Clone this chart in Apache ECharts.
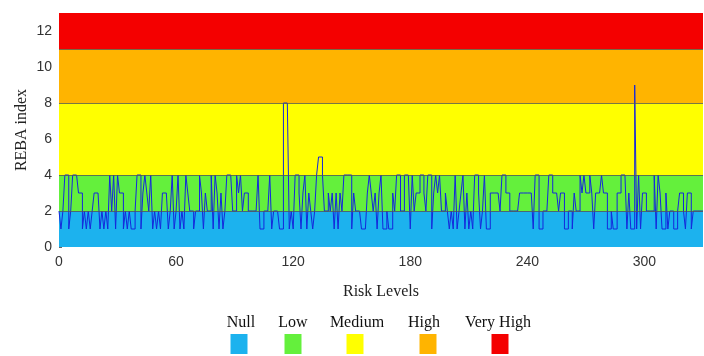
<!DOCTYPE html>
<html>
<head>
<meta charset="utf-8">
<script src="https://cdn.jsdelivr.net/npm/echarts@6/dist/echarts.min.js"></script>
<style>
  html, body { margin: 0; padding: 0; background: #fff; }
  #chart { width: 704px; height: 356px; }
</style>
</head>
<body>
<div id="chart"></div>
<script>
// REBA index per task (x = 0..330)
const rebaIndex = [
  2, 1, 2, 4, 4, 1, 2, 4, 4, 4,
  3, 3, 1, 2, 1, 2, 1, 2, 3, 3,
  3, 1, 2, 1, 2, 1, 4, 2, 4, 1,
  4, 3, 3, 1, 2, 1, 2, 1, 1, 2,
  4, 4, 1, 3, 4, 3, 2, 4, 1, 2,
  1, 2, 1, 3, 3, 3, 1, 2, 4, 1,
  2, 4, 1, 2, 1, 4, 3, 2, 2, 1,
  2, 2, 4, 3, 1, 3, 2, 2, 4, 1,
  4, 3, 1, 3, 1, 2, 4, 4, 4, 2,
  2, 4, 3, 4, 2, 3, 3, 2, 2, 2,
  2, 2, 4, 1, 1, 2, 2, 2, 4, 1,
  2, 2, 2, 1, 1, 8, 8, 8, 1, 2,
  1, 4, 4, 3, 1, 3, 4, 1, 3, 2,
  1, 2, 4, 5, 5, 4, 2, 2, 3, 2,
  3, 1, 3, 1, 3, 2, 4, 4, 4, 4,
  1, 3, 2, 2, 2, 1, 1, 1, 3, 4,
  3, 2, 3, 1, 3, 4, 1, 1, 2, 1,
  1, 3, 2, 4, 4, 2, 2, 4, 4, 4,
  1, 4, 2, 3, 3, 4, 4, 3, 2, 4,
  4, 1, 3, 4, 3, 4, 2, 2, 3, 2,
  1, 2, 1, 4, 1, 2, 3, 4, 1, 3,
  1, 2, 1, 4, 4, 3, 1, 2, 4, 1,
  1, 3, 3, 3, 3, 3, 2, 4, 4, 3,
  3, 2, 2, 2, 2, 2, 3, 3, 3, 3,
  3, 3, 3, 1, 4, 4, 1, 1, 2, 2,
  2, 4, 4, 3, 3, 3, 2, 3, 3, 1,
  1, 2, 2, 1, 3, 2, 2, 4, 3, 4,
  3, 3, 4, 3, 1, 3, 3, 3, 4, 3,
  3, 1, 1, 2, 1, 1, 3, 3, 4, 4,
  4, 1, 3, 1, 1, 9, 1, 4, 1, 3,
  3, 2, 2, 2, 2, 4, 1, 4, 3, 1,
  1, 3, 1, 2, 2, 1, 1, 2, 3, 3,
  2, 1, 3, 3, 1, 2, 2, 2, 2, 2,
  2
]

// risk bands
const bandNames = ['Null', 'Low', 'Medium', 'High', 'Very High']
const bandFrom = [0, 2, 4, 8, 11]
const bandTo = [2, 4, 8, 11, 13]
const bandColors = ['#1cb2ee', '#64f03c', '#ffff00', '#ffb400', '#f40000']

// axis
const xMax = 330
const yMax = 13

const serif = '"Liberation Serif", "DejaVu Serif", serif'
const sans = '"Liberation Sans", Arial, sans-serif'

const chart = echarts.init(document.getElementById('chart'))

// legend: label on top, colour swatch beneath
const legendText = [241, 293, 357, 424, 498]
const legendBox = [239, 293, 355, 428, 500]
const graphics = []
bandNames.forEach((name, i) => {
  graphics.push({
    type: 'text',
    x: legendText[i],
    y: 323,
    style: {
      text: name,
      align: 'center',
      verticalAlign: 'middle',
      font: '16px ' + serif,
      fill: '#111'
    }
  })
  graphics.push({
    type: 'rect',
    shape: { x: legendBox[i] - 8.5, y: 334, width: 17, height: 20 },
    style: { fill: bandColors[i] }
  })
})

const option = {
  animation: false,
  grid: { left: 59, right: 1, top: 13, bottom: 109 },
  xAxis: {
    type: 'value',
    min: 0,
    max: xMax,
    interval: 60,
    name: 'Risk Levels',
    nameLocation: 'middle',
    nameGap: 37,
    nameTextStyle: { fontFamily: serif, fontSize: 16, color: '#222' },
    axisLine: { show: false },
    axisTick: { show: true, inside: true, length: 3, lineStyle: { color: '#666' } },
    axisLabel: { showMaxLabel: false, fontFamily: sans, fontSize: 14, color: '#333', margin: 8 },
    splitLine: { show: false }
  },
  yAxis: {
    type: 'value',
    min: 0,
    max: yMax,
    interval: 2,
    name: 'REBA index',
    nameLocation: 'middle',
    nameGap: 29,
    nameMoveOverlap: false,
    nameTextStyle: { fontFamily: serif, fontSize: 16, color: '#222' },
    axisLine: { show: false },
    axisTick: { show: true, inside: true, length: 3, lineStyle: { color: '#666' } },
    axisLabel: { showMaxLabel: false, fontFamily: sans, fontSize: 14, color: '#333', margin: 7 },
    splitLine: { show: false }
  },
  graphic: graphics,
  series: [
    {
      // background bands with dark boundary lines
      type: 'line',
      data: [],
      z: 1,
      silent: true,
      markArea: {
        silent: true,
        data: bandNames.map((name, i) => [
          { yAxis: bandFrom[i], itemStyle: { color: bandColors[i] } },
          { yAxis: bandTo[i] }
        ])
      },
      markLine: {
        silent: true,
        symbol: 'none',
        label: { show: false },
        lineStyle: { color: '#555', width: 0.8, type: 'solid' },
        data: bandFrom.slice(1).map(v => ({ yAxis: v }))
      }
    },
    {
      name: 'REBA',
      type: 'line',
      step: 'end',
      z: 3,
      symbol: 'none',
      data: rebaIndex.map((v, i) => [i, v]),
      lineStyle: { color: '#1428dc', width: 1 }
    }
  ]
}

chart.setOption(option)
</script>
</body>
</html>
